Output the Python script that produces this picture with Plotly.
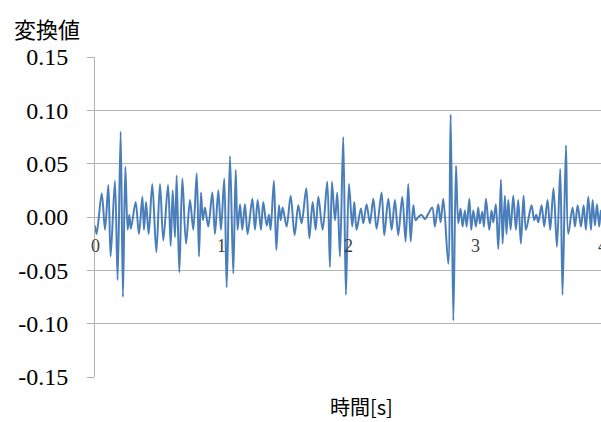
import plotly.graph_objects as go

# Transform signal: time [s] and value at each turning point of the waveform
time_s = [
    0.000, 0.013, 0.053, 0.079, 0.105, 0.123, 0.157, 0.178, 0.202, 0.220, 0.239, 0.257,
    0.270, 0.283, 0.320, 0.346, 0.373, 0.386, 0.402, 0.423, 0.451, 0.483, 0.512, 0.538,
    0.575, 0.596, 0.612, 0.630, 0.643, 0.664, 0.688, 0.717, 0.748, 0.774, 0.801, 0.819,
    0.835, 0.850, 0.866, 0.892, 0.924, 0.945, 0.971, 0.992, 1.018, 1.037, 1.063, 1.089,
    1.108, 1.123, 1.142, 1.160, 1.181, 1.202, 1.239, 1.260, 1.281, 1.307, 1.325, 1.352,
    1.370, 1.383, 1.409, 1.428, 1.449, 1.462, 1.478, 1.509, 1.541, 1.572, 1.601, 1.627,
    1.664, 1.688, 1.714, 1.738, 1.759, 1.793, 1.829, 1.850, 1.866, 1.890, 1.908, 1.929,
    1.955, 1.976, 2.000, 2.026, 2.042, 2.060, 2.094, 2.113, 2.139, 2.165, 2.192, 2.218,
    2.257, 2.278, 2.310, 2.336, 2.362, 2.388, 2.420, 2.446, 2.467, 2.486, 2.507, 2.525,
    2.546, 2.572, 2.598, 2.625, 2.656, 2.677, 2.703, 2.722, 2.743, 2.782, 2.801, 2.822,
    2.843, 2.861, 2.879, 2.895, 2.913, 2.927, 2.948, 2.963, 2.979, 3.000, 3.018, 3.031,
    3.050, 3.063, 3.079, 3.105, 3.123, 3.137, 3.157, 3.176, 3.197, 3.210, 3.228, 3.241,
    3.255, 3.273, 3.294, 3.315, 3.333, 3.354, 3.375, 3.394, 3.438, 3.459, 3.475, 3.491,
    3.517, 3.538, 3.564, 3.585, 3.611, 3.638, 3.664, 3.682, 3.709, 3.727, 3.761, 3.780,
    3.801, 3.827, 3.848, 3.866, 3.885, 3.906, 3.919, 3.937, 3.953, 3.971, 3.984, 4.000,
]
value = [
    -0.008, -0.016, 0.022, -0.012, 0.030, -0.037, 0.034, -0.059, 0.080, -0.075, 0.047, -0.012,
    0.002, -0.011, 0.014, -0.016, 0.019, -0.012, 0.014, -0.016, 0.031, -0.033, 0.031, -0.022,
    0.030, -0.027, 0.025, -0.019, 0.039, -0.052, 0.036, -0.025, 0.016, -0.012, 0.041, -0.037,
    0.023, -0.003, 0.009, -0.009, 0.023, -0.016, 0.025, -0.012, 0.036, -0.066, 0.057, -0.053,
    0.044, -0.012, 0.012, -0.012, 0.012, -0.016, 0.017, -0.012, 0.016, -0.012, 0.014, -0.008,
    0.002, -0.012, 0.034, -0.031, 0.011, -0.003, 0.009, -0.009, 0.020, -0.017, 0.011, -0.006,
    0.027, -0.020, 0.014, -0.012, 0.019, -0.012, 0.033, -0.047, 0.033, -0.003, 0.023, -0.037,
    0.075, -0.073, 0.031, -0.009, 0.014, -0.012, 0.008, -0.006, 0.012, -0.006, 0.017, -0.011,
    0.023, -0.017, 0.017, -0.012, 0.016, -0.017, 0.019, -0.023, 0.031, -0.023, 0.011, -0.003,
    0.000, 0.002, -0.002, 0.003, 0.009, -0.009, 0.012, -0.005, 0.017, -0.044, 0.096, -0.097,
    0.048, -0.006, 0.008, -0.009, 0.006, -0.009, 0.017, -0.012, 0.006, -0.009, 0.009, -0.006,
    0.005, -0.009, 0.017, -0.012, 0.006, -0.005, 0.012, -0.030, 0.035, -0.025, 0.020, -0.016,
    0.016, -0.012, 0.020, -0.012, 0.016, -0.025, 0.020, -0.012, 0.011, -0.003, 0.002, -0.005,
    0.011, -0.009, 0.016, -0.012, 0.027, -0.028, 0.045, -0.073, 0.067, -0.016, 0.009, -0.009,
    0.011, -0.009, 0.011, -0.012, 0.019, -0.012, 0.016, -0.008, 0.012, -0.009, 0.006, -0.005,
]

y_ticks = [-0.15, -0.10, -0.05, 0.00, 0.05, 0.10, 0.15]
y_tick_text = ["-0.15", "-0.10", "-0.05", "0.00", "0.05", "0.10", "0.15"]
x_tick_vals = [0, 1, 2, 3, 4]
x_tick_text = ["0", "1", "2", "3", "4"]

SERIF = "Liberation Serif, Times New Roman, serif"
CJK = "Noto Sans CJK JP, sans-serif"
GRID = "#b3b3b3"
X_MAX = 3.985

fig = go.Figure()
fig.add_trace(go.Scatter(
    x=time_s, y=value, mode="lines",
    line=dict(color="#4a7ebb", width=2, shape="spline", smoothing=0.9),
    hoverinfo="skip", showlegend=False,
))

# Time labels sit just under the zero line
annotations = []
for tv, tt in zip(x_tick_vals, x_tick_text):
    annotations.append(dict(
        x=tv / X_MAX, xref="paper", y=0, yref="y",
        text=tt, showarrow=False, xanchor="center", yanchor="middle",
        yshift=-29, font=dict(family=SERIF, size=18, color="#404040"),
    ))

annotations.append(dict(
    x=-83 / 506, xref="paper", y=(377 - 28) / 320, yref="paper",
    text="変換値", showarrow=False, xanchor="left", yanchor="middle",
    font=dict(family=CJK, size=22, color="#000000"),
))
annotations.append(dict(
    x=(361 - 95) / 506, xref="paper", y=(377 - 406) / 320, yref="paper",
    text="時間[s]", showarrow=False, xanchor="center", yanchor="middle",
    font=dict(family=CJK, size=20, color="#000000"),
))

fig.update_layout(
    width=601, height=422,
    margin=dict(l=95, r=0, t=57, b=45),
    paper_bgcolor="white", plot_bgcolor="white",
    xaxis=dict(
        range=[0, X_MAX], showgrid=False, zeroline=False,
        showticklabels=False, ticks="", showline=False, fixedrange=True,
    ),
    yaxis=dict(
        range=[-0.15, 0.15], tickvals=y_ticks, ticktext=y_tick_text,
        showgrid=True, gridcolor=GRID, gridwidth=1,
        zeroline=True, zerolinecolor=GRID, zerolinewidth=1,
        showline=True, linecolor=GRID, linewidth=1,
        ticks="outside", ticklen=7, tickcolor=GRID,
        ticklabelstandoff=14,
        tickfont=dict(family=SERIF, size=24, color="#000000"),
        fixedrange=True,
    ),
    annotations=annotations,
)

fig.write_html("out.html")
